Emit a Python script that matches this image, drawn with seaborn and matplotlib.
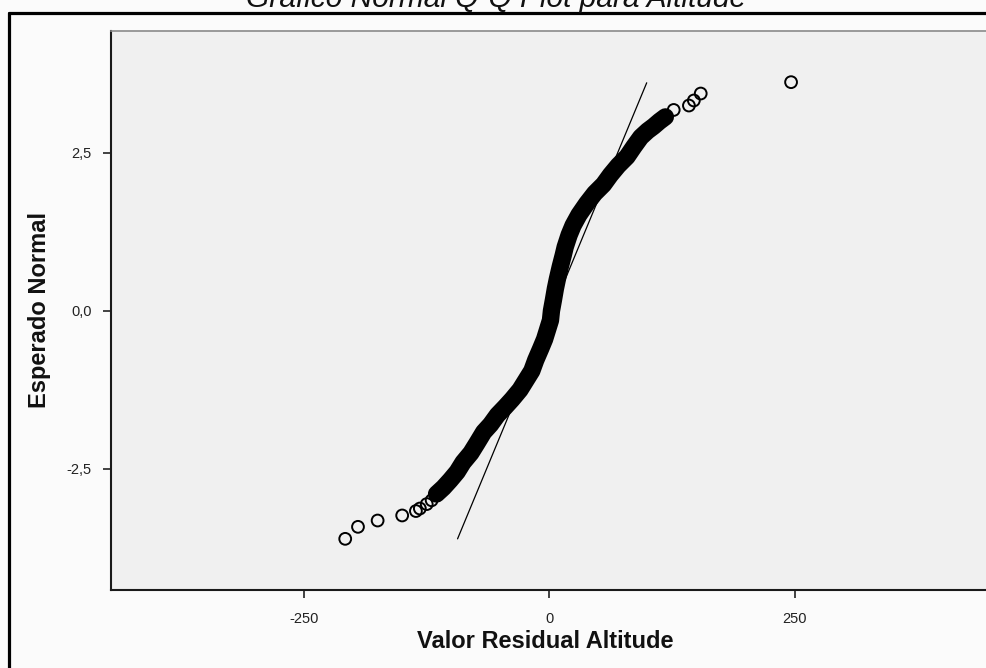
import matplotlib
matplotlib.use("Agg")
import matplotlib.pyplot as plt
import seaborn as sns
import pandas as pd
from matplotlib.lines import Line2D

# ---- data ----
# isolated lower-tail points (residual, expected normal)
low_resid = [-208, -195, -175, -150, -136, -132, -125, -120]
low_expected = [-3.61, -3.42, -3.32, -3.24, -3.17, -3.13, -3.06, -3.00]

# dense core of the Q-Q cloud
core_resid = [-115, -108, -101, -94, -88, -80, -74, -67, -60, -53, -45, -38,
              -30, -24, -18, -14, -9, -5, -2, 1, 2, 4, 6, 8, 11, 14, 16, 20,
              24, 30, 38, 46, 55, 62, 70, 79, 86, 93, 100, 106, 112, 118]
core_expected = [-2.90, -2.80, -2.68, -2.55, -2.40, -2.25, -2.10, -1.92, -1.80,
                 -1.65, -1.52, -1.40, -1.25, -1.10, -0.95, -0.78, -0.60, -0.45,
                 -0.30, -0.15, 0.00, 0.17, 0.35, 0.50, 0.70, 0.88, 1.01, 1.20,
                 1.35, 1.52, 1.70, 1.86, 2.00, 2.15, 2.30, 2.44, 2.60, 2.75,
                 2.85, 2.92, 3.00, 3.07]

# isolated upper-tail points
high_resid = [126.5, 142, 147, 154, 246]
high_expected = [3.18, 3.25, 3.33, 3.44, 3.62]

# reference normal line
line_resid = [-93.6, 99.0]
line_expected = [-3.61, 3.61]

x_ticks = [-250, 0, 250]
x_tick_labels = ["-250", "0", "250"]
y_ticks = [-2.5, 0.0, 2.5]
y_tick_labels = ["-2,5", "0,0", "2,5"]

title = "Gráfico Normal Q-Q Plot para Altitude"
x_label = "Valor Residual Altitude"
y_label = "Esperado Normal"

# ---- build frames ----
core_df = pd.DataFrame({"resid": core_resid, "expected": core_expected})
all_df = pd.DataFrame({
    "resid": low_resid + core_resid + high_resid,
    "expected": low_expected + core_expected + high_expected,
})
line_df = pd.DataFrame({"resid": line_resid, "expected": line_expected})

sns.set_theme(style="white")
plt.rcParams["font.family"] = ["Liberation Sans", "DejaVu Sans"]

W, H = 986, 668
fig = plt.figure(figsize=(W / 100, H / 100), dpi=100)
fig.patch.set_facecolor("#FBFBFB")

ax_l, ax_r, ax_t, ax_b = 111, 986, 31, 590
ax = fig.add_axes([ax_l / W, 1 - ax_b / H, (ax_r - ax_l) / W, (ax_b - ax_t) / H])
ax.set_facecolor("#F0F0F0")

# dense band drawn as a thick stroke through the core points
sns.lineplot(data=core_df, x="resid", y="expected", sort=False, ax=ax,
             color="black", linewidth=12.5, solid_capstyle="round",
             solid_joinstyle="round", estimator=None)
# all points as hollow circles
sns.scatterplot(data=all_df, x="resid", y="expected", ax=ax, s=72,
                marker="o", facecolors="none", edgecolor="black",
                linewidth=1.4, zorder=3)
# reference line
sns.lineplot(data=line_df, x="resid", y="expected", ax=ax, color="black",
             linewidth=0.9, sort=False, estimator=None)

ax.set_xlim(-446.5, 444.5)
ax.set_ylim(-4.42, 4.43)

ax.set_xticks(x_ticks)
ax.set_xticklabels(x_tick_labels)
ax.set_yticks(y_ticks)
ax.set_yticklabels(y_tick_labels)
for lab in ax.get_xticklabels() + ax.get_yticklabels():
    lab.set_fontsize(10.5)
    lab.set_color("#222222")
ax.tick_params(axis="both", direction="out", length=6, width=1.2,
               color="#222222", bottom=True, left=True, pad=8)
ax.tick_params(axis="x", pad=10)

for side in ["left", "bottom"]:
    ax.spines[side].set_color("#1a1a1a")
    ax.spines[side].set_linewidth(1.5)
ax.spines["top"].set_color("#8a8a8a")
ax.spines["top"].set_linewidth(1.2)
ax.spines["right"].set_visible(False)

ax.set_xlabel(x_label, fontsize=17, fontweight="bold", color="#111111")
ax.set_ylabel(y_label, fontsize=17, fontweight="bold", color="#111111")
ax.xaxis.set_label_coords((545 - ax_l) / (ax_r - ax_l), (ax_b - 641) / (ax_b - ax_t))
ax.yaxis.set_label_coords((40 - ax_l) / (ax_r - ax_l), 0.5)
ax.xaxis.label.set_va("center")
ax.yaxis.label.set_va("center")

fig.text(496 / W, 1 - 7 / H, title, ha="center", va="baseline",
         style="italic", fontsize=21.5, color="#111111")

# outer chart frame (left and top edges visible)
fig.add_artist(Line2D([8.5 / W, 8.5 / W], [0, 1 - 12.5 / H],
                      transform=fig.transFigure, color="black", linewidth=2.3))
fig.add_artist(Line2D([8.5 / W, 1], [1 - 12.5 / H, 1 - 12.5 / H],
                      transform=fig.transFigure, color="black", linewidth=2.3))

fig.savefig("out.png", dpi=100, facecolor=fig.get_facecolor())
